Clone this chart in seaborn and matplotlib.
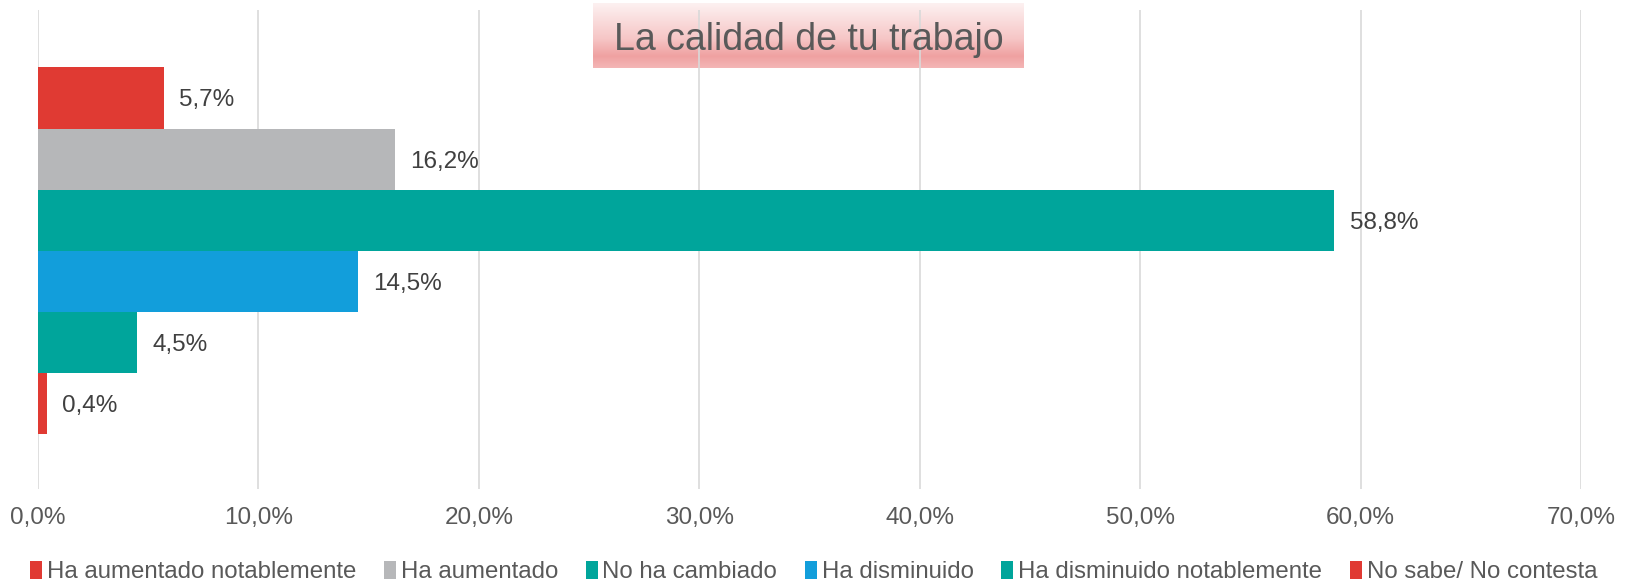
import numpy as np
import pandas as pd
import matplotlib
matplotlib.use("Agg")
import matplotlib.pyplot as plt
import seaborn as sns
from matplotlib.patches import Patch
from matplotlib.colors import LinearSegmentedColormap

categories = ["Ha aumentado notablemente", "Ha aumentado", "No ha cambiado",
              "Ha disminuido", "Ha disminuido notablemente", "No sabe/ No contesta"]
values = [5.7, 16.2, 58.8, 14.5, 4.5, 0.4]
colors = ["#E03A33", "#B6B7B9", "#00A59B", "#129EDB", "#00A59B", "#E03A33"]
xticks = [0, 10, 20, 30, 40, 50, 60, 70]
title = "La calidad de tu trabajo"

sns.set_theme(style="white")
plt.rcParams["font.family"] = ["Liberation Sans", "DejaVu Sans"]

W, H = 1627, 585
fig = plt.figure(figsize=(W / 100, H / 100), dpi=100)
fig.patch.set_facecolor("white")

# title gradient box (behind main axes)
bx0, by0, bx1, by1 = 593, 3, 1024, 68
tax = fig.add_axes([bx0 / W, 1 - by1 / H, (bx1 - bx0) / W, (by1 - by0) / H], zorder=0)
cmap = LinearSegmentedColormap.from_list("g", [(0, "#fdf1f1"), (0.55, "#f6c6c6"), (0.82, "#efa1a1"), (1.0, "#f4b6b6")])
grad = np.linspace(0, 1, 200).reshape(-1, 1)
tax.imshow(grad, aspect="auto", cmap=cmap, extent=[0, 1, 1, 0])
tax.set_axis_off()

ax = fig.add_axes([38 / W, 1 - 489 / H, (1581 - 38) / W, (489 - 10) / H], zorder=1)
ax.patch.set_alpha(0)

df = pd.DataFrame({"cat": categories, "val": values})
sns.barplot(data=df, y="cat", x="val", hue="cat", palette=colors, width=1.0,
            dodge=False, orient="h", legend=False, ax=ax, saturation=1, linewidth=0)

ax.set_xlim(0, 70)
ax.set_ylim(6.40, -1.44)
ax.set_xticks(xticks)
ax.set_xticklabels([f"{t:.1f}%".replace(".", ",") for t in xticks], fontsize=17.5, color="#595959")
ax.set_yticks([])
ax.set_xlabel("")
ax.set_ylabel("")
ax.tick_params(axis="x", length=0, pad=13)
for s in ax.spines.values():
    s.set_visible(False)
ax.grid(axis="x", color="#d9d9d9", linewidth=1.2)
ax.set_axisbelow(True)

for i, v in enumerate(values):
    ax.text(v + 0.7, i + 0.04, f"{v:.1f}%".replace(".", ","), va="center", ha="left",
            fontsize=17.5, color="#404040")

fig.text((bx0 + bx1) / 2 / W, 1 - 50 / H, title, ha="center", va="baseline",
         fontsize=27, color="#595959", zorder=5)

handles = [Patch(facecolor=c, edgecolor="none") for c in colors]
fig.legend(handles, categories, loc="center", bbox_to_anchor=(0.5, 1 - 572 / H),
           ncol=6, frameon=False, fontsize=17.3, labelcolor="#595959",
           handlelength=0.5, handleheight=0.75, handletextpad=0.2, columnspacing=1.15)

fig.savefig("out.png", dpi=100)
